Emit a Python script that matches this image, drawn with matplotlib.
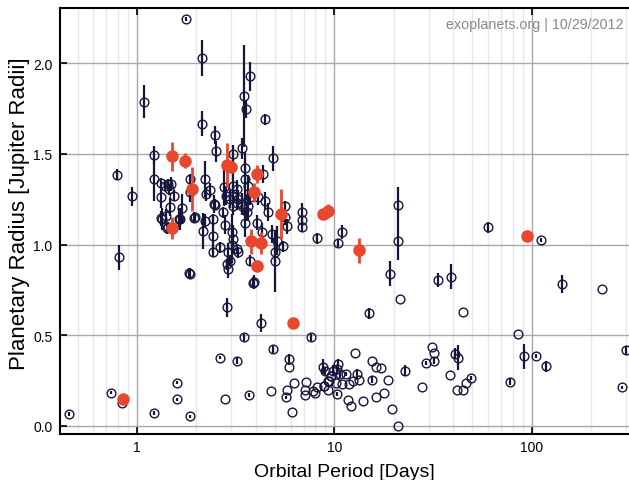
import matplotlib
matplotlib.use("Agg")
import matplotlib.pyplot as plt
from matplotlib.ticker import LogLocator, FixedLocator, NullFormatter

plt.rcParams['font.family'] = ['Liberation Sans', 'DejaVu Sans']

# planets with measured radius (open circles) : period [days], radius [R_jup], error
navy_period = [1.77, 2.14, 1.09, 3.47, 3.56, 3.74, 4.45, 2.14, 2.49, 2.52, 0.789, 0.944,
               1.22, 1.22, 3.08, 3.42, 4.89, 4.37,
               1.32, 1.33, 1.45, 1.48, 1.54, 1.47, 1.69, 1.86, 2.21, 1.39, 1.44, 1.34, 1.42,
               1.64, 1.95, 1.86, 1.33, 1.41, 1.44, 1.65, 1.97, 2.21, 2.15, 0.813, 1.84,
               3.53, 3.54, 2.34, 2.24, 2.76, 3.08, 3.2, 2.83, 2.96, 3.08, 3.26, 3.66, 3.74,
               4.11, 4.45, 2.46, 3.39, 5.63,
               2.44, 2.48, 2.74, 2.79, 3.08, 3.2, 3.39, 3.02, 3.08, 3.02, 2.44, 2.63, 2.9,
               2.96, 2.9, 2.85, 3.2, 3.26, 3.74, 3.88, 3.53, 3.6, 3.66, 4.04, 4.28, 4.62,
               4.81, 5.0, 5.0, 5.1, 5.63, 5.74, 5.52, 6.84, 6.84, 6.84, 2.44, 8.14,
               0.454, 0.738, 0.839, 1.22, 1.59, 1.59, 1.86, 1.86, 2.64, 2.79, 3.2, 2.87,
               3.5, 3.68, 3.92, 4.25, 4.78, 4.89, 5.67, 5.74, 5.89, 5.89, 6.1, 6.25, 7.19,
               7.1, 7.1, 7.83, 7.98, 8.19, 7.62, 8.73, 8.97, 8.91, 9.34, 9.26, 9.65, 9.85,
               10.45, 10.3, 10.2, 10.3, 10.7, 10.9, 11.4, 11.7, 11.9, 12.1, 12.7, 12.4,
               13.0, 13.4, 13.9, 15.5, 16.2, 15.6, 17.3, 16.3, 17.9, 18.7, 19.5, 21.1,
               10.4, 10.9, 21.1, 21.1, 19.2, 33.4, 39.0, 21.5, 14.9, 45.1, 60.3, 111, 143,
               228, 85, 300, 91.8, 105, 118, 77.7, 288, 31.3, 32, 31.9, 29.2, 40.9, 42.4,
               38.5, 27.9, 22.8, 42, 44.9, 46.5, 49.4, 8.9, 9.3, 9.6]
navy_radius = [2.245, 2.03, 1.787, 1.82, 1.747, 1.927, 1.69, 1.666, 1.605, 1.513, 1.384, 1.265,
               1.495, 1.36, 1.497, 1.53, 1.475, 1.39,
               1.339, 1.26, 1.305, 1.333, 1.268, 1.205, 1.2, 1.36, 1.36, 1.324, 1.333, 1.14, 1.089,
               1.14, 1.147, 1.287, 1.144, 1.158, 1.094, 1.14, 1.15, 1.13, 1.076, 0.929, 0.842,
               1.42, 1.36, 1.30, 1.278, 1.315, 1.32, 1.305, 1.27, 1.25, 1.27, 1.25, 1.324, 1.26,
               1.26, 1.24, 1.223, 1.223, 1.21,
               1.14, 1.22, 1.177, 1.11, 1.21, 1.23, 1.21, 1.067, 1.03, 1.0, 0.96, 0.984, 0.956,
               0.91, 0.864, 0.89, 0.975, 0.956, 0.91, 0.79, 1.12, 1.18, 1.21, 1.12, 1.067, 1.177,
               1.057, 0.956, 0.91, 1.02, 1.15, 1.10, 0.99, 1.177, 1.136, 1.098, 1.048, 1.034,
               0.0645, 0.184, 0.125, 0.07, 0.239, 0.146, 0.052, 0.84, 0.377, 0.146, 0.359, 0.653,
               0.488, 0.171, 0.794, 0.565, 0.19, 0.423, 0.157, 0.197, 0.368, 0.322, 0.077, 0.234, 0.243,
               0.2, 0.17, 0.193, 0.184, 0.212, 0.488, 0.327, 0.303, 0.22, 0.245, 0.197, 0.276, 0.303,
               0.34, 0.313, 0.239, 0.175, 0.285, 0.23, 0.285, 0.142, 0.23, 0.11, 0.401, 0.248,
               0.285, 0.254, 0.135, 0.355, 0.327, 0.254, 0.318, 0.162, 0.179, 0.254, 0.092, 0.0,
               1.008, 1.07, 1.017, 1.219, 0.84, 0.805, 0.822, 0.699, 0.622, 0.627, 1.094, 1.026, 0.782,
               0.752, 0.507, 0.419, 0.383, 0.386, 0.329, 0.243, 0.212, 0.436, 0.401, 0.359, 0.346, 0.397, 0.377,
               0.281, 0.217, 0.305, 0.197, 0.197, 0.234, 0.265, 0.22, 0.248, 0.276]
navy_err = [0.01, 0.1, 0.09, 0.28, 0.05, 0.08, 0.03, 0.07, 0.05, 0.06, 0.03, 0.05,
            0.05, 0.12, 0.05, 0.06, 0.07, 0.05,
            0.03, 0.06, 0.03, 0.04, 0.03, 0.05, 0.08, 0.03, 0.1, 0.03, 0.03, 0.06, 0.03,
            0.06, 0.03, 0.05, 0.04, 0.04, 0.03, 0.06, 0.02, 0.04, 0.1, 0.07, 0.03,
            0.05, 0.15, 0.04, 0.04, 0.1, 0.08, 0.05, 0.05, 0.05, 0.05, 0.05, 0.06, 0.04,
            0.04, 0.05, 0.05, 0.06, 0.03,
            0.03, 0.03, 0.03, 0.05, 0.05, 0.04, 0.05, 0.1, 0.08, 0.1, 0.03, 0.03, 0.05,
            0.03, 0.05, 0.03, 0.03, 0.03, 0.03, 0.03, 0.08, 0.05, 0.08, 0.04, 0.05, 0.05,
            0.05, 0.06, 0.17, 0.08, 0.04, 0.04, 0.03, 0.05, 0.03, 0.03, 0.1, 0.03,
            0.01, 0.01, 0.0, 0.01, 0.01, 0.01, 0.01, 0.03, 0.01, 0.0, 0.02, 0.05,
            0.02, 0.01, 0.04, 0.05, 0.0, 0.02, 0.01, 0.0, 0.03, 0.0, 0.0, 0.0, 0.0,
            0.0, 0.0, 0.0, 0.0, 0.0, 0.02, 0.04, 0.02, 0.0, 0.0, 0.0, 0.0, 0.03,
            0.03, 0.02, 0.0, 0.01, 0.02, 0.0, 0.01, 0.0, 0.0, 0.0, 0.0, 0.0,
            0.03, 0.0, 0.0, 0.0, 0.0, 0.02, 0.0, 0.0, 0.0, 0.0, 0.0, 0.0,
            0.02, 0.04, 0.1, 0.1, 0.07, 0.04, 0.07, 0.0, 0.03, 0.0, 0.03, 0.01, 0.05,
            0.0, 0.0, 0.02, 0.07, 0.01, 0.03, 0.02, 0.01, 0.0, 0.0, 0.02, 0.01, 0.03, 0.07,
            0.0, 0.0, 0.03, 0.0, 0.0, 0.0, 0.01, 0.0, 0.0, 0.0]

# highlighted planets (filled red)
red_period = [0.852, 1.51, 1.75, 1.91, 1.51, 2.85, 3.0, 4.04, 3.92, 5.37, 3.77, 4.25,
              4.04, 6.2, 8.8, 9.25, 13.3, 95]
red_radius = [0.147, 1.486, 1.462, 1.306, 1.089, 1.438, 1.429, 1.388, 1.287, 1.168, 1.017, 1.01,
              0.883, 0.567, 1.168, 1.186, 0.967, 1.048]
red_err = [0.02, 0.08, 0.04, 0.12, 0.06, 0.12, 0.03, 0.05, 0.05, 0.14, 0.07, 0.06,
           0.02, 0.0, 0.03, 0.04, 0.07, 0.03]

navy = '#16163a'
red = '#e8472d'

fig = plt.figure(figsize=(6.29, 4.81), dpi=100)
ax = fig.add_axes([59.5 / 629, 46.5 / 481, (629 - 59.5) / 629, (434.5 - 9) / 481])

ax.errorbar(navy_period, navy_radius, yerr=navy_err, fmt='o', ms=6.3, mfc='none',
            mec=navy, mew=1.0, ecolor=navy, elinewidth=1.6, capsize=0, zorder=3)
ax.errorbar(red_period, red_radius, yerr=red_err, fmt='o', ms=8, mfc=red, mec=red,
            ecolor=red, elinewidth=2.0, capsize=0, zorder=4)

ax.set_xscale('log')
ax.set_xlim(0.405, 311)
ax.set_ylim(-0.042, 2.304)
ax.xaxis.set_major_locator(FixedLocator([1, 10, 100]))
ax.set_xticklabels(['1', '10', '100'])
ax.xaxis.set_minor_locator(LogLocator(base=10, subs=range(2, 10)))
ax.xaxis.set_minor_formatter(NullFormatter())
ax.set_yticks([0.0, 0.5, 1.0, 1.5, 2.0])
ax.set_yticklabels(['0.0', '0.5', '1.0', '1.5', '2.0'])

ax.grid(True, which='major', color='#a8a8a8', lw=1.0, zorder=0)
ax.grid(True, which='minor', axis='x', color='#e8e8e8', lw=1.0, zorder=0)
ax.set_axisbelow(True)

ax.tick_params(which='major', direction='in', length=5, width=1.2, top=True,
               labelsize=10, pad=5)
ax.tick_params(which='minor', length=0)
for s in ['left', 'bottom', 'top']:
    ax.spines[s].set_linewidth(1.5)
ax.spines['right'].set_visible(False)

ax.set_xlabel('Orbital Period [Days]', fontsize=14, labelpad=6)
ax.set_ylabel('Planetary Radius [Jupiter Radii]', fontsize=16)
ax.yaxis.set_label_coords(-0.052, 0.52)

ax.text(0.99, 0.962, 'exoplanets.org | 10/29/2012', transform=ax.transAxes,
        ha='right', va='center', fontsize=10.3, color='#888888')

fig.savefig('out.png', dpi=100)
